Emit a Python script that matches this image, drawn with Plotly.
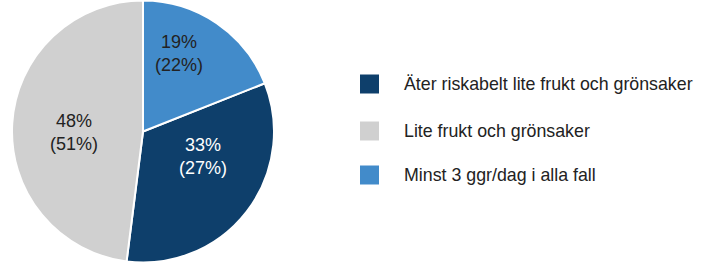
import math
import plotly.graph_objects as go

labels = ["Äter riskabelt lite frukt och grönsaker", "Lite frukt och grönsaker", "Minst 3 ggr/dag i alla fall"]
values = [33, 48, 19]
values_prev = [27, 51, 22]
colors = ["#0E3F6B", "#D0D0D0", "#428BCA"]
text_colors = ["#FFFFFF", "#222222", "#222222"]
# label placement inside each slice: (angle clockwise from 12 o'clock, fraction of radius)
label_pos = [(112, 0.49), (270, 0.53), (24.5, 0.66)]

W, H = 704, 263
FONT = "Liberation Sans, Arial, sans-serif"

# pie geometry in pixels
CX, CY, R = 143, 132, 131

texts = [f"{v}%<br>({p}%)" for v, p in zip(values, values_prev)]

fig = go.Figure(go.Pie(
    labels=labels,
    values=values,
    textinfo="none",
    sort=False,
    direction="clockwise",
    rotation=values[2] / sum(values) * 360,
    marker=dict(colors=colors, line=dict(color="white", width=2)),
    domain=dict(x=[(CX - R) / W, (CX + R) / W], y=[0, 1]),
    showlegend=False,
    hoverinfo="skip",
))

annotations = []
for t, tc, (ang, rf) in zip(texts, text_colors, label_pos):
    a = math.radians(ang)
    px = CX + rf * R * math.sin(a)
    py = CY - rf * R * math.cos(a)
    annotations.append(dict(xref="paper", yref="paper", x=px / W, y=1 - py / H,
                            text=t, showarrow=False, xanchor="center", yanchor="middle",
                            font=dict(family=FONT, size=18, color=tc)))

# manual legend
shapes = []
row_y = [84, 131, 175]
for lab, col, yc in zip(labels, colors, row_y):
    shapes.append(dict(type="rect", xref="paper", yref="paper",
                       x0=360 / W, x1=379 / W,
                       y0=1 - (yc + 9.5) / H, y1=1 - (yc - 9.5) / H,
                       fillcolor=col, line=dict(width=0)))
    annotations.append(dict(xref="paper", yref="paper", x=402 / W, y=1 - yc / H,
                            text=lab, showarrow=False, xanchor="left", yanchor="middle",
                            font=dict(family=FONT, size=17.8, color="#222222")))

fig.update_layout(
    width=W, height=H,
    margin=dict(l=0, r=0, t=0, b=0),
    paper_bgcolor="white",
    plot_bgcolor="white",
    shapes=shapes,
    annotations=annotations,
)

fig.write_html("out.html", config={"displayModeBar": False},
               post_script="document.body.style.margin='0';")
